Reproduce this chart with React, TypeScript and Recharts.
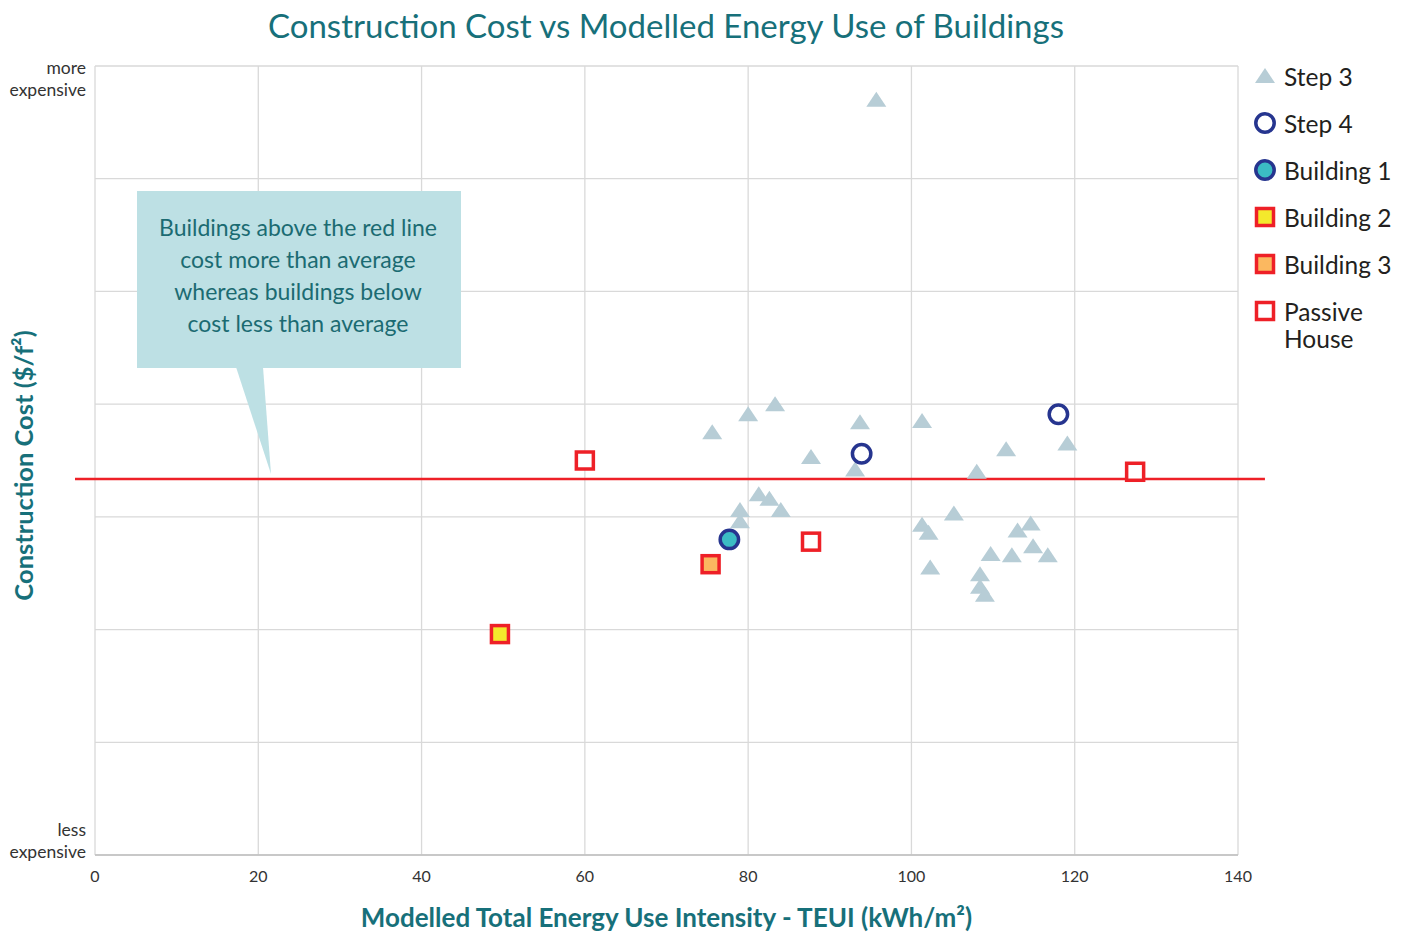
import { ScatterChart, Scatter, XAxis, YAxis, CartesianGrid, ReferenceLine } from 'recharts'

const FONT = 'Lato, "Noto Sans", sans-serif'
const TEAL = '#17707a'

// x = modelled TEUI (kWh/m²), y = relative construction cost (0 = less, 7 = more expensive)
const step3: [number, number][] = [
  [75.6, 3.75], [80.0, 3.91], [83.3, 4.0], [93.7, 3.84], [101.3, 3.85],
  [87.7, 3.53], [93.1, 3.42], [108.0, 3.4], [111.6, 3.6], [119.1, 3.65],
  [81.3, 3.2], [82.6, 3.16], [84.0, 3.06], [79.0, 3.06], [79.0, 2.96],
  [105.2, 3.03], [101.3, 2.93], [102.1, 2.86], [114.6, 2.94], [113.0, 2.88],
  [114.9, 2.74], [109.7, 2.67], [112.3, 2.66], [116.7, 2.66], [102.3, 2.55],
  [108.4, 2.49], [108.4, 2.38], [109.0, 2.31], [95.7, 6.7],
]
const step4: [number, number][] = [[93.9, 3.56], [118.0, 3.91]]
const building1: [number, number][] = [[77.7, 2.8]]
const building2: [number, number][] = [[49.6, 1.96]]
const building3: [number, number][] = [[75.4, 2.58]]
const passiveHouse: [number, number][] = [[60.0, 3.5], [87.7, 2.78], [127.4, 3.4]]
const averageCost = 3.335

const xTicks = [0, 20, 40, 60, 80, 100, 120, 140]
const yTicks = [0, 1, 2, 3, 4, 5, 6, 7]

const toPoints = (arr: [number, number][]) => arr.map(([x, y]) => ({ x, y }))

const Triangle = (p: any) => (
  <polygon
    points={`${p.cx - 10},${p.cy + 7} ${p.cx + 10},${p.cy + 7} ${p.cx},${p.cy - 8}`}
    fill="#b7cdd6"
  />
)
const ringShape = (fill: string) => (p: any) => (
  <circle cx={p.cx} cy={p.cy} r={9.2} fill={fill} stroke="#26358f" strokeWidth={3.5} />
)
const boxShape = (fill: string) => (p: any) => (
  <rect x={p.cx - 8.5} y={p.cy - 8.5} width={17} height={17} fill={fill} stroke="#ee2027" strokeWidth={3.5} />
)

const series = [
  { name: 'Step 3', data: step3, shape: Triangle },
  { name: 'Step 4', data: step4, shape: ringShape('#ffffff') },
  { name: 'Building 1', data: building1, shape: ringShape('#3bbcc4') },
  { name: 'Building 2', data: building2, shape: boxShape('#f4e92c') },
  { name: 'Building 3', data: building3, shape: boxShape('#fbb860') },
  { name: 'Passive House', data: passiveHouse, shape: boxShape('#ffffff') },
]

const CostTick = ({ y, payload }: any) => {
  let lines: string[] | null = null
  let y0 = y
  if (payload.value === 7) { lines = ['more', 'expensive']; y0 = y + 8 }
  if (payload.value === 0) { lines = ['less', 'expensive']; y0 = y - 19 }
  if (!lines) return null
  return (
    <text x={86} y={y0} textAnchor="end" fontSize={17.5} fill="#333" fontFamily={FONT}>
      {lines.map((l, i) => (
        <tspan key={i} x={86} dy={i === 0 ? 0 : 22}>{l}</tspan>
      ))}
    </text>
  )
}

const LegendBox = () => (
  <div style={{ position: 'absolute', left: 1252, top: 63, fontFamily: FONT, fontSize: 24.5, color: '#231f20' }}>
    {series.map((s, i) => (
      <div key={s.name} style={{ display: 'flex', alignItems: 'flex-start', height: 47 }}>
        <svg width={26} height={26} style={{ marginRight: 6 }}>
          {s.shape({ cx: 13, cy: 13 })}
        </svg>
        <div style={{ lineHeight: '27px', width: 130 }}>
          {i === series.length - 1 ? <>Passive<br />House</> : s.name}
        </div>
      </div>
    ))}
  </div>
)

export default function App() {
  return (
    <div style={{ position: 'absolute', left: 0, top: 0, width: 1411, height: 932, background: '#fff', fontFamily: FONT }}>
      <div style={{ position: 'absolute', top: 5, left: 0, width: 1332, textAlign: 'center', fontSize: 33, color: TEAL }}>
        Construction Cost vs Modelled Energy Use of Buildings
      </div>
      <ScatterChart width={1411} height={932} margin={{ top: 66, right: 173, bottom: 0, left: 0 }}>
        <CartesianGrid stroke="#d9d9d9" strokeWidth={1.3} />
        <XAxis
          type="number"
          dataKey="x"
          domain={[0, 140]}
          ticks={xTicks}
          allowDataOverflow
          tickLine={false}
          tickSize={0}
          tickMargin={16}
          axisLine={{ stroke: '#bfbfbf', strokeWidth: 1.5 }}
          tick={{ fontSize: 16, fill: '#333', fontFamily: FONT }}
          height={77}
          label={({ viewBox }: any) => (
            <text x={viewBox.x + viewBox.width / 2} y={viewBox.y + 72} textAnchor="middle" fontSize={26} fontWeight={700} fill={TEAL} fontFamily={FONT}>
              Modelled Total Energy Use Intensity - TEUI (kWh/m²)
            </text>
          )}
        />
        <YAxis
          type="number"
          dataKey="y"
          domain={[0, 7]}
          ticks={yTicks}
          width={95}
          tickLine={false}
          axisLine={false}
          tick={<CostTick />}
          label={({ viewBox }: any) => (
            <text
              x={23}
              y={viewBox.y + viewBox.height / 2 + 5}
              transform={`rotate(-90, 23, ${viewBox.y + viewBox.height / 2 + 5})`}
              textAnchor="middle"
              dominantBaseline="central"
              fontSize={25.5}
              fontWeight={700}
              fill={TEAL}
              fontFamily={FONT}
            >
              Construction Cost ($/f²)
            </text>
          )}
        />
        <ReferenceLine
          segment={[{ x: -2.45, y: averageCost }, { x: 143.3, y: averageCost }]}
          stroke="#ee2027"
          strokeWidth={2.5}
          ifOverflow="visible"
        />
        {series.map((s) => (
          <Scatter
            key={s.name}
            name={s.name}
            data={toPoints(s.data)}
            shape={s.shape}
            isAnimationActive={false}
          />
        ))}
      </ScatterChart>
      <LegendBox />
      {/* callout box */}
      <svg width={1411} height={932} style={{ position: 'absolute', left: 0, top: 0, pointerEvents: 'none' }}>
        <rect x={137} y={191} width={324} height={177} fill="#bde0e4" />
        <polygon points="236,367 263,367 271,474" fill="#bde0e4" />
        <text x={298} y={227} textAnchor="middle" fontSize={23} fill="#1b6b72" fontFamily={FONT} dominantBaseline="central">
          {['Buildings above the red line', 'cost more than average', 'whereas buildings below', 'cost less than average'].map((l, i) => (
            <tspan key={i} x={298} dy={i === 0 ? 0 : 32}>{l}</tspan>
          ))}
        </text>
      </svg>
    </div>
  )
}
